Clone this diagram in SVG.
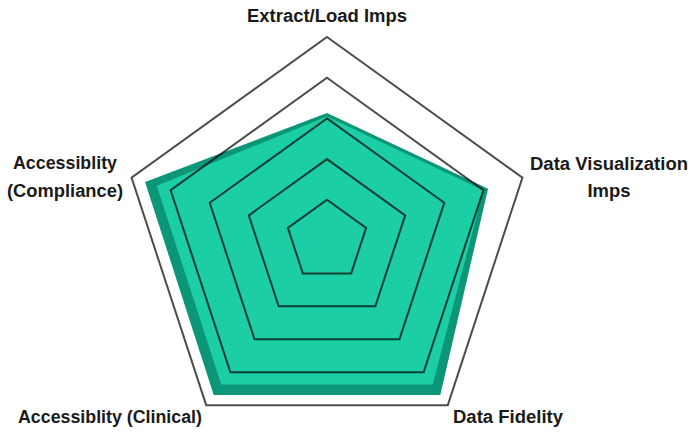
<svg xmlns="http://www.w3.org/2000/svg" width="691" height="432" viewBox="0 0 691 432">
<style>
.ring{fill:none;stroke:#000;stroke-opacity:0.7;stroke-width:2;stroke-linejoin:miter}
.lbl{font-family:"Liberation Sans",Arial,sans-serif;font-weight:bold;font-size:18px;fill:#1a1a1a;text-anchor:middle}
</style>
<rect width="691" height="432" fill="#ffffff"/>
<g id="series">
<polygon id="series-dark" points="327,113 488.05,188.69 440.3,394.9 213.7,394.9 145.03,181.96" fill="#0c9678"/>
<polygon id="series-light" points="327,116.4 483.36,190.2 432.69,384.55 221.31,384.55 156.76,185.73" fill="#1ccea6"/>
</g>
<g id="grid">
<polygon class="ring" points="327,37 522.45,177.62 447.79,405.13 206.21,405.13 131.55,177.62"/>
<polygon class="ring" points="327,77.7 483.36,190.2 423.63,372.2 230.37,372.2 170.64,190.2"/>
<polygon class="ring" points="327,118.4 444.27,202.77 399.47,339.28 254.53,339.28 209.73,202.77"/>
<polygon class="ring" points="327,159.1 405.18,215.35 375.32,306.35 278.68,306.35 248.82,215.35"/>
<polygon class="ring" points="327,199.8 366.09,227.92 351.16,273.43 302.84,273.43 287.91,227.92"/>
</g>
<g id="label-extract"><text class="lbl" x="327" y="22" textLength="160" lengthAdjust="spacingAndGlyphs">Extract/Load Imps</text></g>
<g id="label-dataviz">
<text class="lbl" x="609" y="170" textLength="158" lengthAdjust="spacingAndGlyphs">Data Visualization</text>
<text class="lbl" x="609" y="197" textLength="43" lengthAdjust="spacingAndGlyphs">Imps</text>
</g>
<g id="label-fidelity"><text class="lbl" x="508" y="423" textLength="110" lengthAdjust="spacingAndGlyphs">Data Fidelity</text></g>
<g id="label-clinical"><text class="lbl" x="110" y="423" textLength="184" lengthAdjust="spacingAndGlyphs">Accessiblity (Clinical)</text></g>
<g id="label-compliance">
<text class="lbl" x="65" y="169" textLength="104" lengthAdjust="spacingAndGlyphs">Accessiblity</text>
<text class="lbl" x="65" y="197" textLength="116" lengthAdjust="spacingAndGlyphs">(Compliance)</text>
</g>
</svg>
